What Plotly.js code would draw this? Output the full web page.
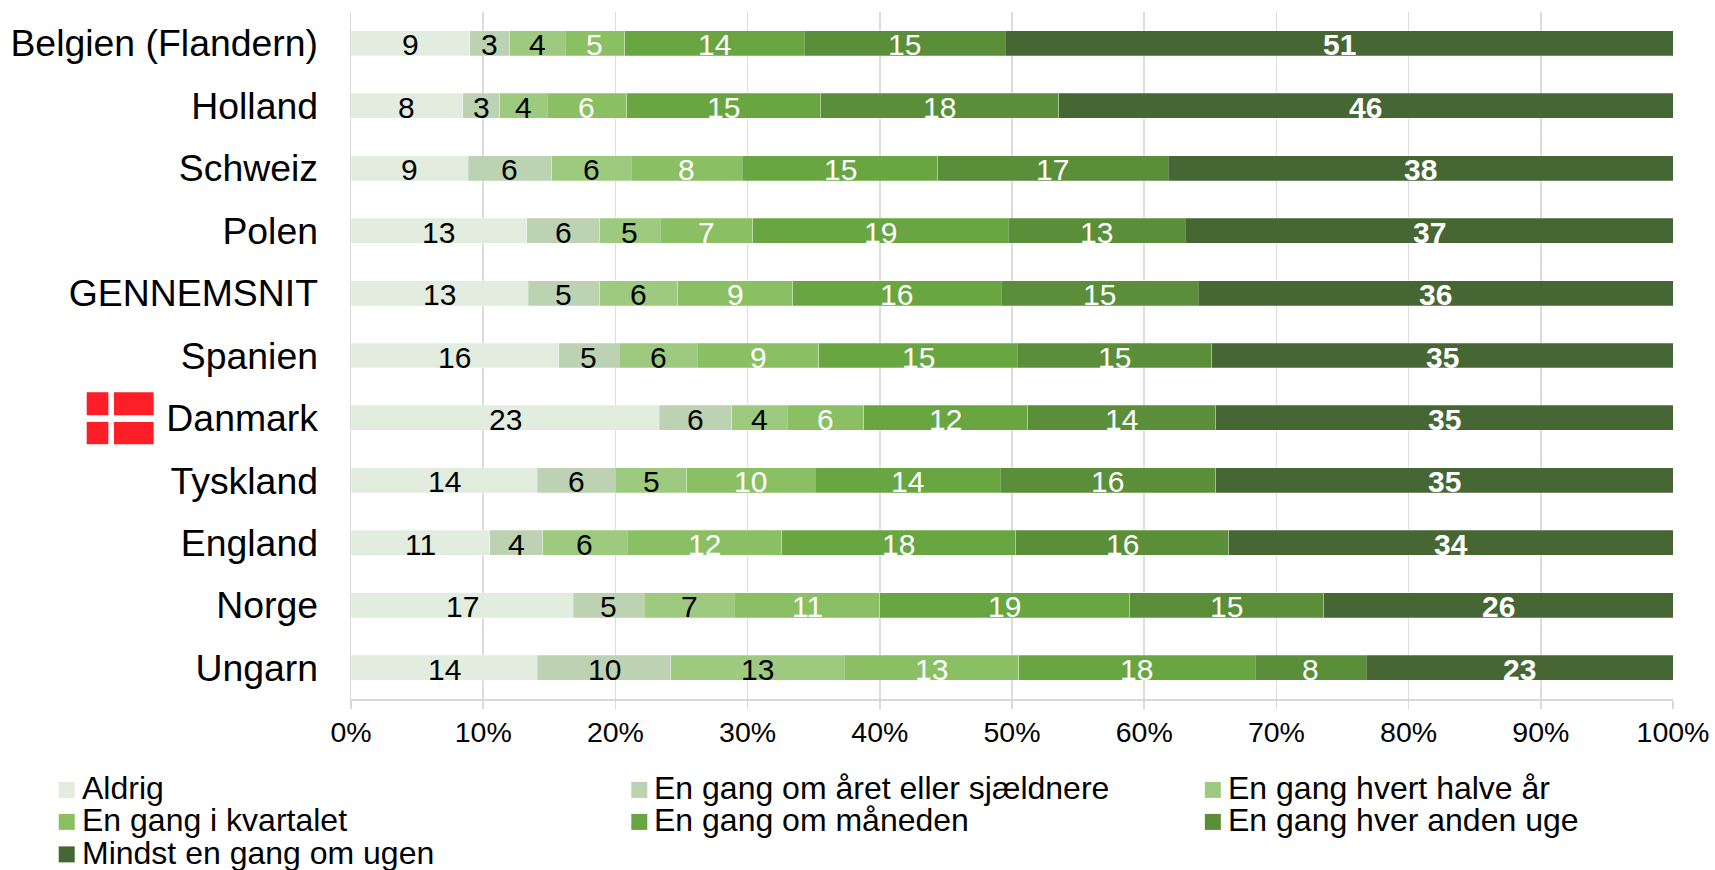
<!DOCTYPE html>
<html>
<head>
<meta charset="utf-8">
<script src="https://cdn.plot.ly/plotly-3.0.1.min.js"></script>
<style>html,body{margin:0;padding:0;background:#fff;overflow:hidden}</style>
</head>
<body>
<div id="chart"></div>
<script>
const countries = ["Belgien (Flandern)","Holland","Schweiz","Polen","GENNEMSNIT","Spanien","Danmark","Tyskland","England","Norge","Ungarn"];
const seriesNames = ["Aldrig","En gang om året eller sjældnere","En gang hvert halve år","En gang i kvartalet","En gang om måneden","En gang hver anden uge","Mindst en gang om ugen"];
const aldrig     = [9.0,8.45,8.85,13.3,13.4,15.7,23.3,14.1,10.5,16.8,14.1];
const aarligt    = [3.0,2.8,6.35,5.5,5.4,4.6,5.5,5.9,4.0,5.4,10.1];
const halvaarligt= [4.2,3.6,6.0,4.6,5.9,5.9,4.2,5.4,6.4,6.8,13.1];
const kvartal    = [4.5,6.0,8.4,7.0,8.7,9.2,5.8,9.7,11.7,11.0,13.2];
const maaned     = [13.6,14.7,14.8,19.3,15.8,15.0,12.4,14.0,17.7,18.9,17.9];
const anden_uge  = [15.2,18.0,17.4,13.4,14.9,14.7,14.2,16.3,16.1,14.7,8.4];
const ugentligt  = [50.5,46.45,38.2,36.9,35.9,34.9,34.6,34.6,33.6,26.4,23.2];
const xTickVals = [0,10,20,30,40,50,60,70,80,90,100];
const colors = ["#E2ECDF","#BCD2B2","#9ECA7F","#8ABF63","#69A641","#5A8E38","#466633"];
const textColors = ["#000","#000","#000","#fff","#fff","#fff","#fff"];
const allSeries = [aldrig,aarligt,halvaarligt,kvartal,maaned,anden_uge,ugentligt];
const FONT = "Liberation Sans, Arial, sans-serif";
const W = 1715, H = 870;
const plotL = 350.5, plotR = 1673.5, plotT = 11.5, plotB = 699;
const px = x => (x - plotL) / (plotR - plotL);
const py = y => (plotB - y) / (plotB - plotT);

const traces = allSeries.map((vals,i) => ({
  type:"bar", orientation:"h", name:seriesNames[i], x:vals, y:countries,
  marker:{color:colors[i],line:{color:"rgba(255,255,255,0.5)",width:0.5}},
  hoverinfo:"x+y+name", showlegend:false
}));

const shapes = [], annotations = [];
// Value labels sit slightly below the bar centre, so they are placed through the axes
countries.forEach((c,r)=>{
  let cum = 0;
  allSeries.forEach((vals,i)=>{
    annotations.push({xref:"x",yref:"y",x:cum+vals[r]/2,y:c,yshift:-1.5,xanchor:"center",yanchor:"middle",
      text:String(Math.round(vals[r])),showarrow:false,
      font:{family:FONT,size:30,color:textColors[i],weight:i===6?"bold":"normal"}});
    cum += vals[r];
  });
});

const legendCols = [58,631,1205], legendRows = [790,822,854.5], swatch = 16, textGap = 6, legendTextLift = 1.5;
seriesNames.forEach((n,i)=>{
  const cx = legendCols[i%3], cy = legendRows[Math.floor(i/3)];
  shapes.push({type:"rect",xref:"paper",yref:"paper",x0:px(cx),x1:px(cx+swatch),y0:py(cy-swatch/2),y1:py(cy+swatch/2),fillcolor:colors[i],line:{width:0}});
  annotations.push({xref:"paper",yref:"paper",x:px(cx+swatch+textGap),y:py(cy-legendTextLift),xanchor:"left",yanchor:"middle",text:n,showarrow:false,align:"left",
    font:{family:FONT,size:32,color:"#000"},borderpad:0});
});
// Dannebrog next to "Danmark"
const flagRed = "#FE1E27";
[[86,107.7,392,415],[113.3,153,392,415],[86,107.7,421.7,444],[113.3,153,421.7,444]].forEach(r=>{
  shapes.push({type:"rect",xref:"paper",yref:"paper",x0:px(r[0]),x1:px(r[1]),y0:py(r[2]),y1:py(r[3]),fillcolor:flagRed,line:{width:0}});
});

const layout = {
  width:W,height:H,autosize:false,
  paper_bgcolor:"#fff",plot_bgcolor:"#fff",
  barmode:"stack",bargap:0.6,showlegend:false,
  margin:{l:plotL,r:W-plotR,t:plotT,b:H-plotB,pad:0},
  font:{family:FONT,color:"#000"},
  xaxis:{range:[0,100],tickvals:xTickVals,ticktext:xTickVals.map(v=>v+"%"),
    showgrid:true,gridcolor:"#DDDDDD",gridwidth:1.5,zeroline:false,
    showline:true,linecolor:"#D9D9D9",linewidth:2,
    ticks:"outside",ticklen:8,tickwidth:1.5,tickcolor:"#D9D9D9",
    tickfont:{family:FONT,size:28.5,color:"#000"},tickangle:0,ticklabelstandoff:-1},
  yaxis:{type:"category",categoryorder:"array",categoryarray:countries,range:[10.5,-0.5],
    showgrid:false,zeroline:false,showline:true,linecolor:"#D9D9D9",linewidth:1.5,
    ticks:"",tickfont:{family:FONT,size:37.4,color:"#000"},ticklabelstandoff:24},
  shapes,annotations
};
Plotly.newPlot("chart",traces,layout,{displayModeBar:false,staticPlot:true});
</script>
</body>
</html>
